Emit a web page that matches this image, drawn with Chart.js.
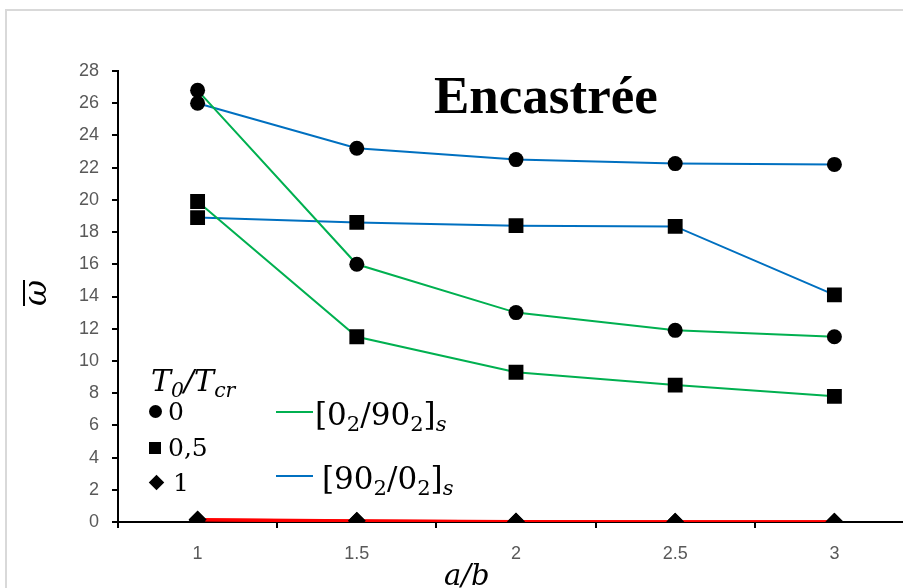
<!DOCTYPE html>
<html>
<head>
<meta charset="utf-8">
<script src="https://cdn.jsdelivr.net/npm/chart.js@4"></script>
<style>
  html, body { margin: 0; padding: 0; background: #fff; overflow: hidden; }
  #wrap { position: relative; width: 903px; height: 588px; overflow: hidden; }
  #frame { position: absolute; left: 5px; top: 9px; width: 2000px; height: 2000px;
           border-top: 2px solid #d9d9d9; border-left: 2px solid #d9d9d9; }
  #box { position: absolute; left: 0; top: 0; width: 930px; height: 588px; }
  .t { position: absolute; white-space: nowrap; color: #000; font-family: "DejaVu Serif", "Liberation Serif", serif; line-height: 1; }
  .m { font-style: italic; }
  sub { font-size: 68%; vertical-align: -0.3em; line-height: 0; }
  .mk { position: absolute; background: #000; }
</style>
</head>
<body>
<div id="wrap">
  <div id="frame"></div>
  <div id="box"><canvas id="chart" width="930" height="588"></canvas></div>

  <div class="t" style="left:434px; top:69px; font-size:53px; font-weight:bold; font-family:'Liberation Serif', serif;">Encastrée</div>
  <div class="t m" style="left:15px; top:277px; font-size:32px; transform:rotate(-90deg); transform-origin:center; width:40px; text-align:center;"><span style="display:inline-block; border-top:2px solid #000; line-height:0.62em; padding-top:1px;">ω</span></div>
  <div class="t m" style="left:444px; top:561px; font-size:29px;">a/b</div>

  <div class="t m" style="left:151px; top:366px; font-size:30px;">T<sub>0</sub>/T<sub>cr</sub></div>
  <div class="mk" style="left:149px; top:405px; width:13px; height:13px; border-radius:50%;"></div>
  <div class="t" style="left:168px; top:399px; font-size:25px;">0</div>
  <div class="mk" style="left:149px; top:442px; width:12px; height:12px;"></div>
  <div class="t" style="left:168px; top:435px; font-size:25px;">0,5</div>
  <div class="mk" style="left:151px; top:477px; width:11px; height:11px; transform:rotate(45deg);"></div>
  <div class="t" style="left:173px; top:470px; font-size:25px;">1</div>

  <div style="position:absolute; left:276px; top:411px; width:37px; height:2px; background:#00b050;"></div>
  <div class="t" style="left:315px; top:399px; font-size:31px;">[0<sub>2</sub>/90<sub>2</sub>]<sub class="m">s</sub></div>
  <div style="position:absolute; left:276px; top:475px; width:37px; height:2px; background:#0070c0;"></div>
  <div class="t" style="left:322px; top:463px; font-size:31px;">[90<sub>2</sub>/0<sub>2</sub>]<sub class="m">s</sub></div>
</div>

<script>
const ratios = ['1', '1.5', '2', '2.5', '3'];

// [0_2/90_2]_s  (green)
const cross0   = [26.8, 16.0, 13.0, 11.9, 11.5];
const cross05  = [19.9, 11.5, 9.3, 8.5, 7.8];
const cross1   = [0.15, 0.08, 0.03, 0.02, 0.02];

// [90_2/0_2]_s  (blue)
const angle0   = [26.0, 23.2, 22.5, 22.25, 22.2];
const angle05  = [18.9, 18.6, 18.4, 18.35, 14.1];
const angle1   = [0.12, 0.06, 0.02, 0.01, 0.01];

const yTicks = { min: 0, max: 28, step: 2 };

const GREEN = '#00b050';
const BLUE = '#0070c0';
const RED = '#ff0000';

Chart.defaults.font.family = 'Liberation Sans';
Chart.defaults.font.size = 18;
Chart.defaults.color = '#595959';

function series(data, color, width, style, radius, order) {
  return {
    data: data,
    borderColor: color,
    borderWidth: width,
    backgroundColor: '#000',
    pointBackgroundColor: '#000',
    pointBorderColor: '#000',
    pointBorderWidth: 0,
    pointStyle: style,
    pointRadius: radius,
    pointHoverRadius: radius,
    tension: 0,
    order: order
  };
}

const ctx = document.getElementById('chart').getContext('2d');
new Chart(ctx, {
  type: 'line',
  data: {
    labels: ratios,
    datasets: [
      series(angle0, BLUE, 2, 'circle', 7.5, 4),
      series(cross0, GREEN, 2, 'circle', 7.5, 3),
      series(angle05, BLUE, 2, 'rect', 10.5, 6),
      series(cross05, GREEN, 2, 'rect', 10.5, 5),
      series(angle1, RED, 3, 'rectRot', 9, 2),
      series(cross1, RED, 3, 'rectRot', 9, 1)
    ]
  },
  options: {
    responsive: false,
    animation: false,
    devicePixelRatio: 1,
    layout: { padding: { left: 68, right: 16, top: 71, bottom: 26 } },
    plugins: { legend: { display: false }, tooltip: { enabled: false }, title: { display: false } },
    scales: {
      x: {
        type: 'category',
        offset: true,
        grid: { display: true, offset: true, drawOnChartArea: false, tickLength: 6, tickColor: '#000', lineWidth: 2 },
        border: { color: '#000', width: 2 },
        ticks: { color: '#595959', font: { size: 18 }, padding: 15, maxRotation: 0, minRotation: 0, autoSkip: false },
        afterFit: s => { s.height = 40; }
      },
      y: {
        min: yTicks.min,
        max: yTicks.max,
        grid: { display: true, drawOnChartArea: false, tickLength: 6, tickColor: '#000', lineWidth: 2 },
        border: { color: '#000', width: 2 },
        ticks: { stepSize: yTicks.step, color: '#595959', font: { size: 18 }, padding: 13 },
        afterFit: s => { s.width = 50; }
      }
    }
  }
});
</script>
</body>
</html>
